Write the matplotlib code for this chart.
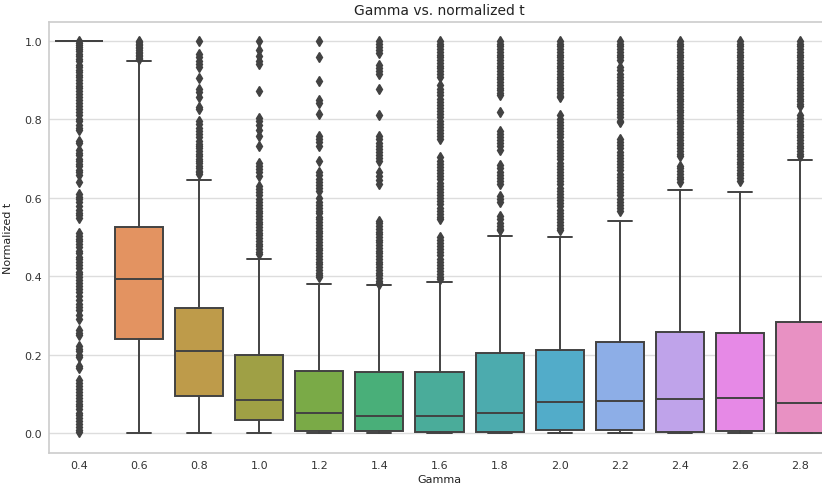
import matplotlib
matplotlib.use("Agg")
import matplotlib.pyplot as plt
import seaborn as sns

sns.set_style("whitegrid")
plt.rcParams['font.family'] = ['DejaVu Sans']

categories = ["0.4", "0.6", "0.8", "1.0", "1.2", "1.4", "1.6", "1.8", "2.0", "2.2", "2.4", "2.6", "2.8"]

q1 = [1.0, 0.239, 0.095, 0.032, 0.005, 0.006, 0.003, 0.003, 0.008, 0.008, 0.003, 0.004, 0.0]
medians = [1.0, 0.393, 0.210, 0.084, 0.052, 0.044, 0.043, 0.051, 0.079, 0.082, 0.086, 0.089, 0.077]
q3 = [1.0, 0.526, 0.318, 0.198, 0.158, 0.155, 0.156, 0.204, 0.212, 0.231, 0.257, 0.255, 0.283]
whisker_low = [1.0, 0.0, 0.0, 0.0, 0.0, 0.0, 0.0, 0.0, 0.0, 0.0, 0.0, 0.0, 0.0]
whisker_high = [1.0, 0.948, 0.646, 0.443, 0.380, 0.378, 0.384, 0.503, 0.501, 0.542, 0.621, 0.614, 0.696]

fl_04 = [1.0, 0.995, 0.99, 0.985, 0.98, 0.974, 0.968, 0.962, 0.955, 0.948, 0.94, 0.933, 0.926, 0.92,
         0.914, 0.908, 0.9, 0.893, 0.886, 0.88, 0.872, 0.865, 0.858, 0.85, 0.842, 0.835, 0.826, 0.818,
         0.81, 0.802, 0.795, 0.787, 0.779, 0.772, 0.745, 0.74, 0.722, 0.715, 0.708, 0.7, 0.693, 0.686,
         0.68, 0.672, 0.665, 0.657, 0.64, 0.61, 0.603, 0.596, 0.59, 0.578, 0.57, 0.562, 0.555, 0.548,
         0.51, 0.503, 0.496, 0.49, 0.482, 0.475, 0.465, 0.458, 0.45, 0.443, 0.436, 0.428, 0.42, 0.412,
         0.405, 0.398, 0.39, 0.382, 0.375, 0.368, 0.36, 0.35, 0.34, 0.33, 0.322, 0.315, 0.3, 0.292,
         0.262, 0.255, 0.25, 0.222, 0.215, 0.208, 0.2, 0.193, 0.17, 0.165, 0.135, 0.128, 0.12, 0.112,
         0.105, 0.098, 0.09, 0.082, 0.075, 0.068, 0.06, 0.052, 0.045, 0.038, 0.03, 0.022, 0.015, 0.008, 0.003]
fl_06 = [0.953, 0.957, 0.961, 0.965, 0.969, 0.973, 0.977, 0.981, 0.985, 0.989, 0.993, 0.997, 1.0]
fl_08 = [1.0, 0.967, 0.959, 0.95, 0.941, 0.933, 0.905, 0.878, 0.869, 0.856, 0.831, 0.826, 0.797, 0.788,
         0.779, 0.771, 0.762, 0.754, 0.745, 0.738, 0.733, 0.726, 0.72, 0.713, 0.707, 0.7, 0.695, 0.688,
         0.682, 0.675, 0.669, 0.665, 0.661]
fl_10 = [1.0, 0.976, 0.963, 0.95, 0.941, 0.873, 0.804, 0.795, 0.786, 0.774, 0.758, 0.733, 0.69, 0.682,
         0.673, 0.665, 0.656, 0.631, 0.622, 0.614, 0.606, 0.597, 0.589, 0.582, 0.575, 0.567, 0.56, 0.553,
         0.546, 0.539, 0.532, 0.525, 0.518, 0.511, 0.504, 0.497, 0.49, 0.483, 0.476, 0.469, 0.463, 0.457]
fl_12 = [1.0, 0.958, 0.899, 0.849, 0.841, 0.814, 0.758, 0.75, 0.742, 0.733, 0.695, 0.665, 0.657, 0.649,
         0.641, 0.633, 0.625, 0.617, 0.6, 0.589, 0.582, 0.575, 0.567, 0.56, 0.552, 0.545, 0.538, 0.531,
         0.523, 0.516, 0.509, 0.502, 0.494, 0.487, 0.48, 0.473, 0.466, 0.459, 0.452, 0.445, 0.437, 0.43,
         0.423, 0.416, 0.409, 0.402, 0.398]
fl_14 = [1.0, 0.993, 0.985, 0.977, 0.97, 0.94, 0.932, 0.924, 0.917, 0.877, 0.812, 0.757, 0.749, 0.741,
         0.733, 0.725, 0.717, 0.709, 0.701, 0.693, 0.665, 0.656, 0.645, 0.636, 0.542, 0.535, 0.528, 0.521,
         0.514, 0.507, 0.5, 0.493, 0.486, 0.479, 0.472, 0.465, 0.458, 0.451, 0.444, 0.437, 0.43, 0.423,
         0.416, 0.409, 0.402, 0.395, 0.388, 0.382, 0.379]
fl_16 = [1.0, 0.993, 0.986, 0.979, 0.972, 0.965, 0.958, 0.951, 0.944, 0.937, 0.93, 0.923, 0.916, 0.908,
         0.887, 0.877, 0.869, 0.861, 0.853, 0.845, 0.837, 0.829, 0.821, 0.813, 0.805, 0.797, 0.789, 0.781,
         0.773, 0.765, 0.757, 0.751, 0.703, 0.695, 0.687, 0.679, 0.671, 0.663, 0.655, 0.647, 0.639, 0.631,
         0.623, 0.615, 0.607, 0.599, 0.591, 0.583, 0.575, 0.567, 0.559, 0.551, 0.546, 0.499, 0.492, 0.485,
         0.477, 0.469, 0.461, 0.453, 0.445, 0.437, 0.429, 0.421, 0.413, 0.405, 0.397, 0.393]
fl_18 = [1.0, 0.993, 0.986, 0.979, 0.972, 0.965, 0.958, 0.951, 0.944, 0.937, 0.93, 0.923, 0.916, 0.909,
         0.902, 0.895, 0.888, 0.881, 0.874, 0.867, 0.862, 0.818, 0.771, 0.763, 0.755, 0.747, 0.739, 0.731,
         0.723, 0.683, 0.675, 0.667, 0.659, 0.651, 0.643, 0.636, 0.605, 0.597, 0.589, 0.553, 0.545, 0.537,
         0.529, 0.521, 0.517]
fl_20 = [1.0, 0.993, 0.986, 0.979, 0.972, 0.965, 0.958, 0.951, 0.944, 0.937, 0.93, 0.923, 0.916, 0.909,
         0.902, 0.895, 0.888, 0.881, 0.874, 0.867, 0.86, 0.857, 0.81, 0.802, 0.794, 0.786, 0.778, 0.77,
         0.762, 0.754, 0.746, 0.738, 0.73, 0.722, 0.714, 0.706, 0.698, 0.69, 0.682, 0.674, 0.666, 0.658,
         0.65, 0.642, 0.634, 0.626, 0.618, 0.61, 0.602, 0.594, 0.586, 0.578, 0.57, 0.562, 0.554, 0.546,
         0.538, 0.53, 0.522, 0.518]
fl_22 = [1.0, 0.993, 0.986, 0.979, 0.972, 0.965, 0.958, 0.951, 0.933, 0.925, 0.917, 0.909, 0.901, 0.893,
         0.885, 0.877, 0.869, 0.861, 0.853, 0.845, 0.837, 0.829, 0.821, 0.813, 0.805, 0.797, 0.793, 0.75,
         0.742, 0.734, 0.726, 0.718, 0.71, 0.702, 0.694, 0.686, 0.678, 0.67, 0.662, 0.654, 0.646, 0.638,
         0.63, 0.622, 0.614, 0.606, 0.598, 0.59, 0.582, 0.574, 0.567]
fl_24 = [1.0, 0.993, 0.986, 0.979, 0.972, 0.965, 0.958, 0.951, 0.944, 0.937, 0.93, 0.923, 0.916, 0.909,
         0.902, 0.895, 0.888, 0.881, 0.874, 0.867, 0.86, 0.853, 0.846, 0.839, 0.832, 0.825, 0.818, 0.811,
         0.804, 0.797, 0.79, 0.783, 0.776, 0.769, 0.762, 0.755, 0.748, 0.741, 0.734, 0.727, 0.72, 0.713,
         0.707, 0.682, 0.675, 0.668, 0.661, 0.654, 0.647, 0.64]
fl_26 = [1.0, 0.993, 0.986, 0.979, 0.972, 0.965, 0.958, 0.951, 0.944, 0.937, 0.93, 0.923, 0.916, 0.909,
         0.902, 0.895, 0.888, 0.881, 0.874, 0.867, 0.86, 0.853, 0.846, 0.839, 0.832, 0.825, 0.818, 0.811,
         0.804, 0.797, 0.79, 0.783, 0.776, 0.769, 0.762, 0.755, 0.748, 0.741, 0.734, 0.727, 0.72, 0.713,
         0.706, 0.699, 0.692, 0.685, 0.678, 0.671, 0.664, 0.657, 0.65, 0.644]
fl_28 = [1.0, 0.993, 0.986, 0.979, 0.972, 0.965, 0.958, 0.951, 0.944, 0.937, 0.93, 0.923, 0.916, 0.909,
         0.902, 0.895, 0.888, 0.881, 0.874, 0.867, 0.86, 0.853, 0.846, 0.839, 0.835, 0.81, 0.803, 0.796,
         0.789, 0.782, 0.775, 0.768, 0.761, 0.754, 0.747, 0.74, 0.733, 0.726, 0.719, 0.712, 0.707]
fliers = [fl_04, fl_06, fl_08, fl_10, fl_12, fl_14, fl_16, fl_18, fl_20, fl_22, fl_24, fl_26, fl_28]

title = "Gamma vs. normalized t"
xlabel = "Gamma"
ylabel = "Normalized t"

palette = [sns.desaturate(c, 0.75) for c in sns.husl_palette(len(categories), l=0.7)]
gray = "#424242"

fig = plt.figure(figsize=(8.22, 4.89), dpi=100)
ax = fig.add_axes([49 / 822, 1 - 454 / 489, 781 / 822, 431 / 489])

stats = []
for i, c in enumerate(categories):
    stats.append(dict(label=c, med=medians[i], q1=q1[i], q3=q3[i],
                      whislo=whisker_low[i], whishi=whisker_high[i], fliers=fliers[i]))

bp = ax.bxp(stats, positions=list(range(len(categories))), widths=0.8, patch_artist=True,
            showfliers=True,
            boxprops=dict(edgecolor=gray, linewidth=1.4),
            medianprops=dict(color=gray, linewidth=1.4),
            whiskerprops=dict(color=gray, linewidth=1.4),
            capprops=dict(color=gray, linewidth=1.4),
            flierprops=dict(marker='d', markersize=5, markerfacecolor=gray,
                            markeredgecolor=gray, linestyle='none'))
for patch, col in zip(bp['boxes'], palette):
    patch.set_facecolor(col)

ax.set_xlim(-0.5, len(categories) - 0.5)
ax.set_ylim(-0.051, 1.0485)
ax.set_yticks([0.0, 0.2, 0.4, 0.6, 0.8, 1.0])
ax.set_xticks(range(len(categories)))
ax.set_xticklabels(categories)
ax.grid(axis='x', visible=False)
ax.grid(axis='y', color='#dddddd', linewidth=1.0)
ax.set_axisbelow(True)
for s in ax.spines.values():
    s.set_color('#cccccc')
    s.set_linewidth(1.2)
ax.tick_params(axis='both', length=0, labelsize=8, colors='#333333', pad=5)
ax.set_title(title, fontsize=10, color='#222222', pad=6)
ax.set_xlabel(xlabel, fontsize=8, color='#222222', labelpad=3)
ax.set_ylabel(ylabel, fontsize=8, color='#222222', labelpad=8)

fig.savefig("out.png", dpi=100)
